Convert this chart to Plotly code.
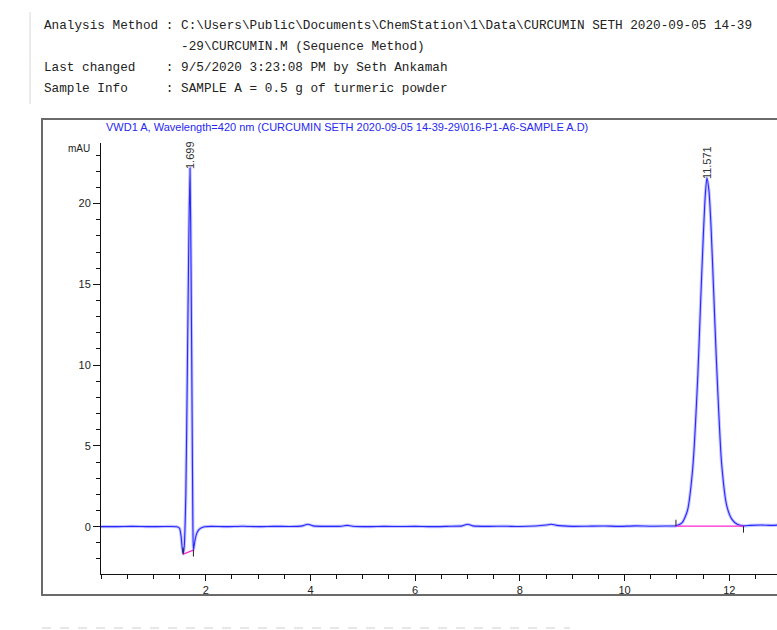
import plotly.graph_objects as go

# ---------------- data ----------------
header_lines = [
    "Analysis Method : C:\\Users\\Public\\Documents\\ChemStation\\1\\Data\\CURCUMIN SETH 2020-09-05 14-39",
    "                  -29\\CURCUMIN.M (Sequence Method)",
    "Last changed    : 9/5/2020 3:23:08 PM by Seth Ankamah",
    "Sample Info     : SAMPLE A = 0.5 g of turmeric powder",
]
signal_title = "VWD1 A, Wavelength=420 nm (CURCUMIN SETH 2020-09-05 14-39-29\\016-P1-A6-SAMPLE A.D)"

time_min = [0.0, 0.3, 0.6, 0.9, 1.2, 1.45, 1.50, 1.53, 1.55, 1.57, 1.59, 1.62, 1.65, 1.68,
            1.70, 1.72, 1.74, 1.755, 1.765, 1.78, 1.80, 1.83, 1.87, 1.92, 1.98, 2.1, 2.4,
            2.7, 3.0, 3.3, 3.6, 3.85, 3.95, 4.05, 4.3, 4.6, 4.7, 4.8, 5.1, 5.4, 5.7, 6.0,
            6.3, 6.6, 6.9, 7.0, 7.1, 7.4, 7.7, 8.0, 8.3, 8.5, 8.6, 8.7, 9.0, 9.3, 9.6, 9.9,
            10.2, 10.5, 10.8, 10.98, 11.1, 11.2, 11.3, 11.4, 11.45, 11.5, 11.54, 11.571, 11.61,
            11.65, 11.7, 11.75, 11.85, 11.95, 12.05, 12.15, 12.27, 12.4, 12.6, 12.8, 12.95]
signal_mau = [0.0, 0.0, 0.02, 0.0, 0.01, 0.0, -0.1, -0.6, -1.3, -1.7, -1.2, 2.0, 10.0, 18.5,
              22.2, 16.0, 7.0, 0.0, -1.45, -1.15, -0.75, -0.4, -0.18, -0.06, 0.0, 0.02, 0.0,
              0.03, 0.0, 0.02, 0.01, 0.05, 0.15, 0.05, 0.02, 0.03, 0.08, 0.03, 0.0, 0.02, 0.01, 0.02,
              0.0, 0.02, 0.05, 0.15, 0.05, 0.02, 0.03, 0.01, 0.04, 0.1, 0.15, 0.08, 0.02, 0.03, 0.04, 0.02,
              0.05, 0.03, 0.04, 0.05, 0.25, 1.0, 3.6, 9.5, 13.8, 17.8, 20.5, 21.6, 20.8,
              18.6, 14.6, 10.5, 4.0, 1.3, 0.45, 0.15, 0.05, 0.08, 0.1, 0.08, 0.1]

peak_rt = [1.699, 11.571]
peak_labels = ["1.699", "11.571"]
peak_top = [22.2, 21.6]

# integration baselines: (start time, start value, end time, end value)
base_start_t = [1.57, 10.98]
base_start_v = [-1.7, 0.03]
base_end_t = [1.765, 12.27]
base_end_v = [-1.45, 0.03]

x_range = [0, 12.91]
y_range = [-2.93, 23.75]
x_major = [2, 4, 6, 8, 10, 12]
y_major = [0, 5, 10, 15, 20]

# ---------------- figure ----------------
W, H = 777, 630
ML, MR, MT, MB = 101, 0, 143, 56
PW, PH = W - ML - MR, H - MT - MB

def px(xp):
    return (xp - ML) / PW

def py(yp):
    return (H - MB - yp) / PH

fig = go.Figure()

# halo + core line for the signal
fig.add_trace(go.Scatter(x=time_min, y=signal_mau, mode="lines", line_shape="spline",
                         line=dict(color="rgba(150,150,255,0.55)", width=3.2, smoothing=0.6),
                         hoverinfo="skip", showlegend=False))
fig.add_trace(go.Scatter(x=time_min, y=signal_mau, mode="lines", line_shape="spline",
                         line=dict(color="rgb(40,40,255)", width=1.1, smoothing=0.6),
                         showlegend=False))

# integration baselines
for s_t, s_v, e_t, e_v in zip(base_start_t, base_start_v, base_end_t, base_end_v):
    fig.add_trace(go.Scatter(x=[s_t, e_t], y=[s_v, e_v], mode="lines",
                             line=dict(color="rgb(255,40,210)", width=1.2),
                             hoverinfo="skip", showlegend=False))

# baseline event ticks
tick_len = 0.4
fig.add_trace(go.Scatter(
    x=[base_start_t[0], base_start_t[0], None, base_end_t[0], base_end_t[0], None,
       base_start_t[1], base_start_t[1], None, base_end_t[1], base_end_t[1]],
    y=[base_start_v[0], base_start_v[0] + tick_len, None, base_end_v[0], base_end_v[0] - tick_len, None,
       base_start_v[1], base_start_v[1] + tick_len, None, base_end_v[1], base_end_v[1] - tick_len],
    mode="lines", line=dict(color="#222", width=1), hoverinfo="skip", showlegend=False))

# peak labels (rotated)
for rt, lab, top in zip(peak_rt, peak_labels, peak_top):
    fig.add_annotation(x=rt, y=top, xref="x", yref="y", text=lab, textangle=-90,
                       showarrow=False, yanchor="bottom", xanchor="center", yshift=-3,
                       font=dict(family="Liberation Sans, Arial", size=11, color="#333"))

# title of signal
fig.add_annotation(x=px(104), y=py(127), xref="paper", yref="paper", text=signal_title,
                   showarrow=False, xanchor="left", yanchor="middle",
                   font=dict(family="Liberation Sans, Arial", size=11, color="rgb(40,40,240)"))

# mAU label
fig.add_annotation(x=px(92), y=py(148), xref="paper", yref="paper", text="mAU",
                   showarrow=False, xanchor="right", yanchor="middle",
                   font=dict(family="Liberation Sans, Arial", size=10, color="#222"))

# header lines
header_y = [25, 46, 67, 88]
for line, yp in zip(header_lines, header_y):
    fig.add_annotation(x=px(42), y=py(yp), xref="paper", yref="paper",
                       text=line.replace(" ", "&nbsp;"), showarrow=False,
                       xanchor="left", yanchor="middle",
                       font=dict(family="Liberation Mono, DejaVu Sans Mono, monospace",
                                 size=12.7, color="#222"))

shapes = [
    # outer frame
    dict(type="rect", xref="paper", yref="paper", x0=px(42), x1=px(790), y0=py(595), y1=py(119),
         line=dict(color="#6a6a6a", width=2)),
    # dashed separator at bottom
    dict(type="line", xref="paper", yref="paper", x0=px(42), x1=px(570), y0=py(628), y1=py(628),
         line=dict(color="#cfcfcf", width=1, dash="dash")),
    # faint left page line
    dict(type="line", xref="paper", yref="paper", x0=px(30), x1=px(30), y0=py(104), y1=py(12),
         line=dict(color="#d8d8d8", width=1)),
]

fig.update_layout(
    width=W, height=H,
    margin=dict(l=ML, r=MR, t=MT, b=MB, autoexpand=False),
    paper_bgcolor="white", plot_bgcolor="white",
    shapes=shapes,
    xaxis=dict(range=x_range, showgrid=False, zeroline=False, showline=True,
               linecolor="#111", linewidth=1, ticks="outside", ticklen=6, tickcolor="#111",
               tickvals=x_major, ticktext=[str(v) for v in x_major],
               minor=dict(dtick=0.5, tick0=0, ticks="outside", ticklen=4, tickcolor="#111"),
               tickfont=dict(family="Liberation Sans, Arial", size=11, color="#222"),
               mirror=False),
    yaxis=dict(range=y_range, showgrid=False, zeroline=False, showline=True,
               linecolor="#111", linewidth=1, ticks="outside", ticklen=7, tickcolor="#111",
               tickvals=y_major, ticktext=[str(v) for v in y_major],
               minor=dict(dtick=1, tick0=0, ticks="outside", ticklen=4, tickcolor="#111"),
               tickfont=dict(family="Liberation Sans, Arial", size=11, color="#222")),
)

fig.write_html("out.html", config={"displayModeBar": False},
               post_script="document.body.style.margin='0';document.body.style.overflow='hidden';")
